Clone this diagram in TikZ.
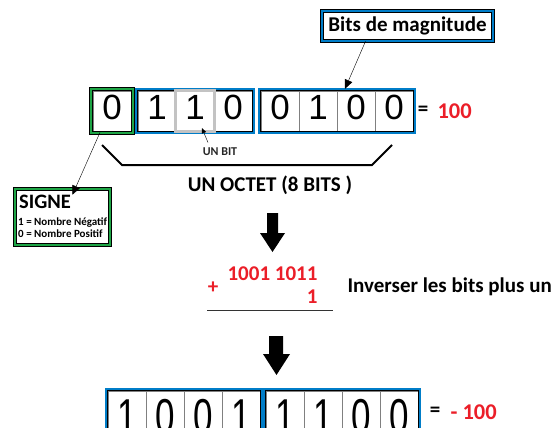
\documentclass[tikz,border=0pt]{standalone}
\usepackage{fontspec}
\setmainfont{Carlito}
\newfontfamily\digitfont{Liberation Sans}
\usetikzlibrary{arrows.meta,fit,positioning}
\definecolor{bitblue}{RGB}{0,125,200}
\definecolor{bitgreen}{RGB}{30,165,70}
\definecolor{bitred}{RGB}{235,30,40}
\definecolor{bitgray}{RGB}{195,195,195}
\tikzset{
  bitcell/.style={draw=gray,thin,minimum width=38pt,minimum height=40pt,
    inner sep=0pt,text height=25pt,text depth=7pt,
    font=\digitfont\fontsize{35}{35}\selectfont},
  tallcell/.style={bitcell,minimum height=50pt,text height=35pt,text depth=0pt},
  blueframe/.style={draw=black,line width=0.6pt,double=bitblue,
    double distance=2pt,inner sep=1.6pt},
  greenframe/.style={draw=black,line width=0.6pt,double=bitgreen,
    double distance=2.6pt,inner sep=1.9pt,fill=white},
  ptr/.style={thin,-{Triangle[length=9pt,width=8pt]}},
  bold/.style={font=\bfseries\fontsize{#1}{#1}\selectfont},
  bold/.default=21
}
\begin{document}
\begin{tikzpicture}[x=1pt,y=-1pt]
  \useasboundingbox (0,0) rectangle (560,428);
  % l'octet +100
  \foreach \d/\x [count=\i] in {0/112,1/157,1/195,0/233,0/280,1/318,0/356,0/394}
    \node[bitcell] (t\i) at (\x,111) {\d};
  \node[greenframe,fill=none,fit=(t1)] (signbit) {};
  \node[blueframe,fit=(t2)(t4)] (grp1) {};
  \node[blueframe,fit=(t5)(t8)] (grp2) {};
  \draw[bitgray,line width=3pt] (t3.north west) rectangle (t3.south east);
  \node[bold=21] (eq1) at (423,111) {=};
  \node[bold=22.5,bitred,anchor=west] (val1) at (434,111) {100};
  % etiquettes
  \node[blueframe,fill=white,minimum width=171pt,minimum height=30pt,
    inner sep=0pt,bold] (mag) at (407.5,26) {Bits de magnitude};
  \draw[ptr] ([xshift=-42pt]mag.south) -- ([xshift=-11pt,yshift=2pt]t7.north);
  \node[greenframe,minimum width=95pt,minimum height=56pt] (signe) at (62.5,217) {};
  \node[bold=20.5,anchor=west,inner sep=0pt] (signetitle) at (19,202) {SIGNE};
  \node[bold=11,anchor=west,inner sep=0pt] (neg) at (18,223) {1 = Nombre Négatif};
  \node[bold=11,anchor=west,inner sep=0pt] (pos) at (18,234) {0 = Nombre Positif};
  \draw[ptr] ([xshift=-12pt,yshift=1pt]signbit.south) -- ([xshift=10pt,yshift=-6pt]signe.north);
  \node[bold=12,text=black!85] (unbit) at (220,152) {UN BIT};
  \draw[thin,-{Triangle[length=5pt,width=4.5pt]}] ([xshift=-12pt,yshift=2pt]unbit.north) -- ([xshift=7pt,yshift=3pt]t3.south);
  \draw[line width=2pt] (102,145) -- (122,165) -- (372,165) -- (392,145);
  \node[bold] (octet) at (270,185) {UN OCTET (8 BITS )};
  % complement a deux
  \fill (267,213) -- (278,213) -- (278,233) -- (285,233) -- (272.5,252)
    -- (260,233) -- (267,233) -- cycle;
  \node[bold,bitred,anchor=east] (inv) at (321,274) {1001 1011};
  \node[bold,bitred,anchor=east] (un) at (321,297) {1};
  \node[bold,bitred] (plus) at (213,288) {+};
  \draw[black!80,semithick] (207,310) -- (333,310);
  \node[bold,anchor=west] (regle) at (344,287) {Inverser les bits plus un};
  \fill (269,336) -- (283,336) -- (283,354) -- (290,354) -- (276.5,375)
    -- (263,354) -- (269,354) -- cycle;
  % l'octet -100
  \foreach \d/\x [count=\i] in {1/127,0/165,0/203,1/241,1/285,1/323,0/361,0/399}
    \node[tallcell] (b\i) at (\x,416) {\scalebox{1}[1.4]{\d}};
  \node[blueframe,fit=(b1)(b4)] (grp3) {};
  \node[blueframe,fit=(b5)(b8)] (grp4) {};
  \node[bold=21] (eq2) at (435,412) {=};
  \node[bold=22.5,bitred,anchor=west] (val2) at (447,412) {- 100};
\end{tikzpicture}
\end{document}
